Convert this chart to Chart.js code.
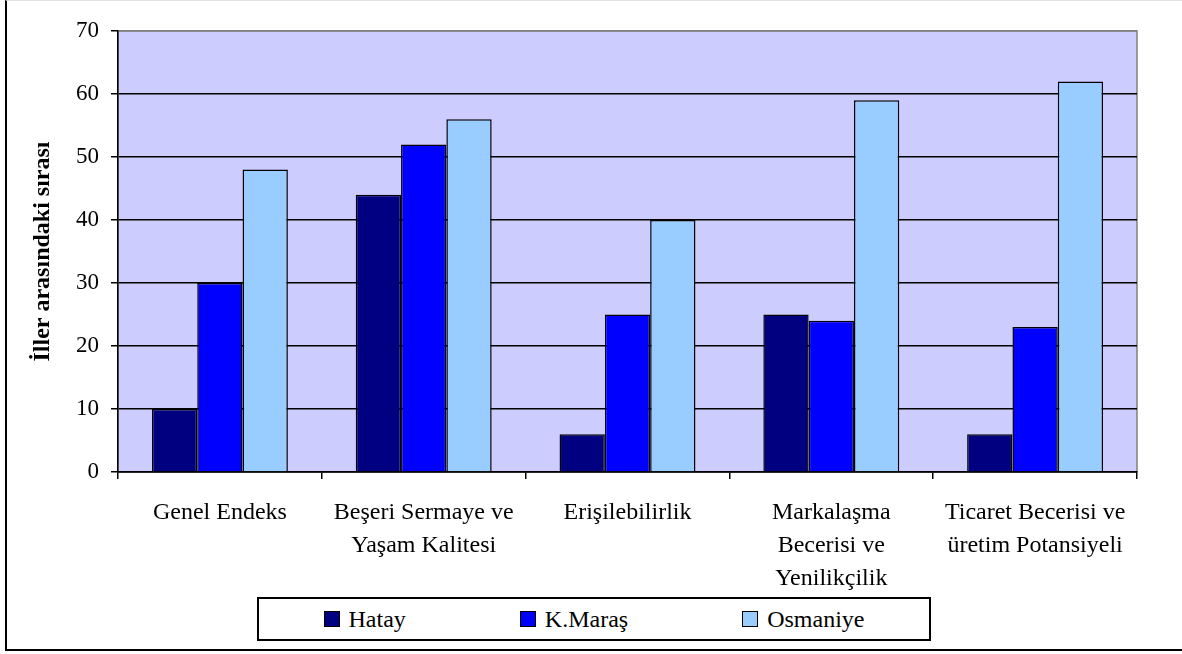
<!DOCTYPE html>
<html lang="tr">
<head>
    <meta charset="UTF-8">
    <title>İller arasındaki sırası</title>
    <script src="https://cdn.jsdelivr.net/npm/chart.js"></script>
    <style>
        html, body { margin: 0; padding: 0; background: #fff; }
        #sayfa { position: relative; width: 1182px; height: 654px; overflow: hidden; }
        #grafik { position: absolute; left: 0; top: 0; }
        #cerceve {
            position: absolute; left: 5px; top: 0; width: 1177px; height: 651px;
            border-left: 2px solid #000; border-bottom: 2px solid #000; border-top: 1px solid #e2e2e2;
            box-sizing: border-box; pointer-events: none;
        }
        #lejant {
            position: absolute; left: 257px; top: 597px; width: 674px; height: 44px;
            border: 2px solid #000; box-sizing: border-box; background: #fff;
            display: flex; align-items: center; justify-content: center; gap: 114px;
            font-family: "Liberation Serif", serif; font-size: 24px; color: #000;
        }
        #lejant .oge { display: flex; align-items: center; }
        #lejant .kutu { width: 14px; height: 14px; border: 1.5px solid #000; margin-right: 9px; }
    </style>
</head>
<body>
    <div id="sayfa">
        <canvas id="grafik" width="1182" height="654"></canvas>
        <div id="cerceve"></div>
        <div id="lejant"></div>
    </div>

    <script>
        // Kategoriler (çok satırlı etiketler)
        const kategoriler = [
            "Genel Endeks",
            ["Beşeri Sermaye ve", "Yaşam Kalitesi"],
            "Erişilebilirlik",
            ["Markalaşma", "Becerisi ve", "Yenilikçilik"],
            ["Ticaret Becerisi ve", "üretim Potansiyeli"]
        ];

        const hatay = [10, 44, 6, 25, 6];
        const kmaras = [30, 52, 25, 24, 23];
        const osmaniye = [48, 56, 40, 59, 62];

        const seriAdlari = ["Hatay", "K.Maraş", "Osmaniye"];
        const seriRenkleri = ["#000080", "#0000FF", "#99CCFF"];

        const yMin = 0;
        const yMax = 70;
        const yAdim = 10;

        const yazi = "'Liberation Serif', serif";

        // Çizim alanının arka planı
        const arkaPlan = {
            id: 'arkaPlan',
            beforeDraw(chart) {
                const { ctx, chartArea: a } = chart;
                ctx.save();
                ctx.fillStyle = '#CCCCFF';
                ctx.fillRect(a.left, a.top, a.right - a.left, a.bottom - a.top);
                ctx.strokeStyle = '#808080';
                ctx.lineWidth = 1.5;
                ctx.strokeRect(a.left, a.top, a.right - a.left, a.bottom - a.top);
                ctx.restore();
            }
        };

        const seriler = [hatay, kmaras, osmaniye].map((veri, i) => ({
            label: seriAdlari[i],
            data: veri,
            backgroundColor: seriRenkleri[i],
            borderColor: '#000',
            borderWidth: 1.5,
            categoryPercentage: 0.667,
            barPercentage: 1
        }));

        const ctx = document.getElementById("grafik").getContext("2d");
        const grafik = new Chart(ctx, {
            type: 'bar',
            data: { labels: kategoriler, datasets: seriler },
            options: {
                responsive: false,
                animation: false,
                devicePixelRatio: 1,
                layout: { padding: { left: 28, top: 31, right: 45, bottom: 22 } },
                plugins: {
                    legend: { display: false },
                    tooltip: { enabled: false }
                },
                scales: {
                    x: {
                        grid: { offset: true, drawOnChartArea: false, color: '#000', lineWidth: 1.5, tickLength: 7 },
                        border: { color: '#000', width: 1.5 },
                        ticks: {
                            color: '#000',
                            padding: 17,
                            maxRotation: 0,
                            autoSkip: false,
                            font: { family: yazi, size: 24, lineHeight: 1.375 }
                        },
                        afterFit(scale) { scale.height = 160; }
                    },
                    y: {
                        min: yMin,
                        max: yMax,
                        grid: {
                            color: c => (c.tick && c.tick.value === yMax) ? '#808080' : '#000',
                            tickColor: '#000',
                            lineWidth: 1.5,
                            tickLength: 7
                        },
                        border: { color: '#000', width: 1.5 },
                        ticks: {
                            stepSize: yAdim,
                            color: '#000',
                            padding: 12,
                            font: { family: yazi, size: 23 }
                        },
                        title: {
                            display: true,
                            text: 'İller arasındaki sırası',
                            color: '#000',
                            padding: 0,
                            font: { family: yazi, size: 24, weight: 'bold', lineHeight: 1.2 }
                        },
                        afterFit(scale) { scale.width = 90; }
                    }
                }
            },
            plugins: [arkaPlan]
        });

        // Lejant: serilerden üretilir
        const lejant = document.getElementById("lejant");
        grafik.data.datasets.forEach(ds => {
            const oge = document.createElement("div");
            oge.className = "oge";
            const kutu = document.createElement("span");
            kutu.className = "kutu";
            kutu.style.background = ds.backgroundColor;
            const ad = document.createElement("span");
            ad.textContent = ds.label;
            oge.appendChild(kutu);
            oge.appendChild(ad);
            lejant.appendChild(oge);
        });
    </script>
</body>
</html>
